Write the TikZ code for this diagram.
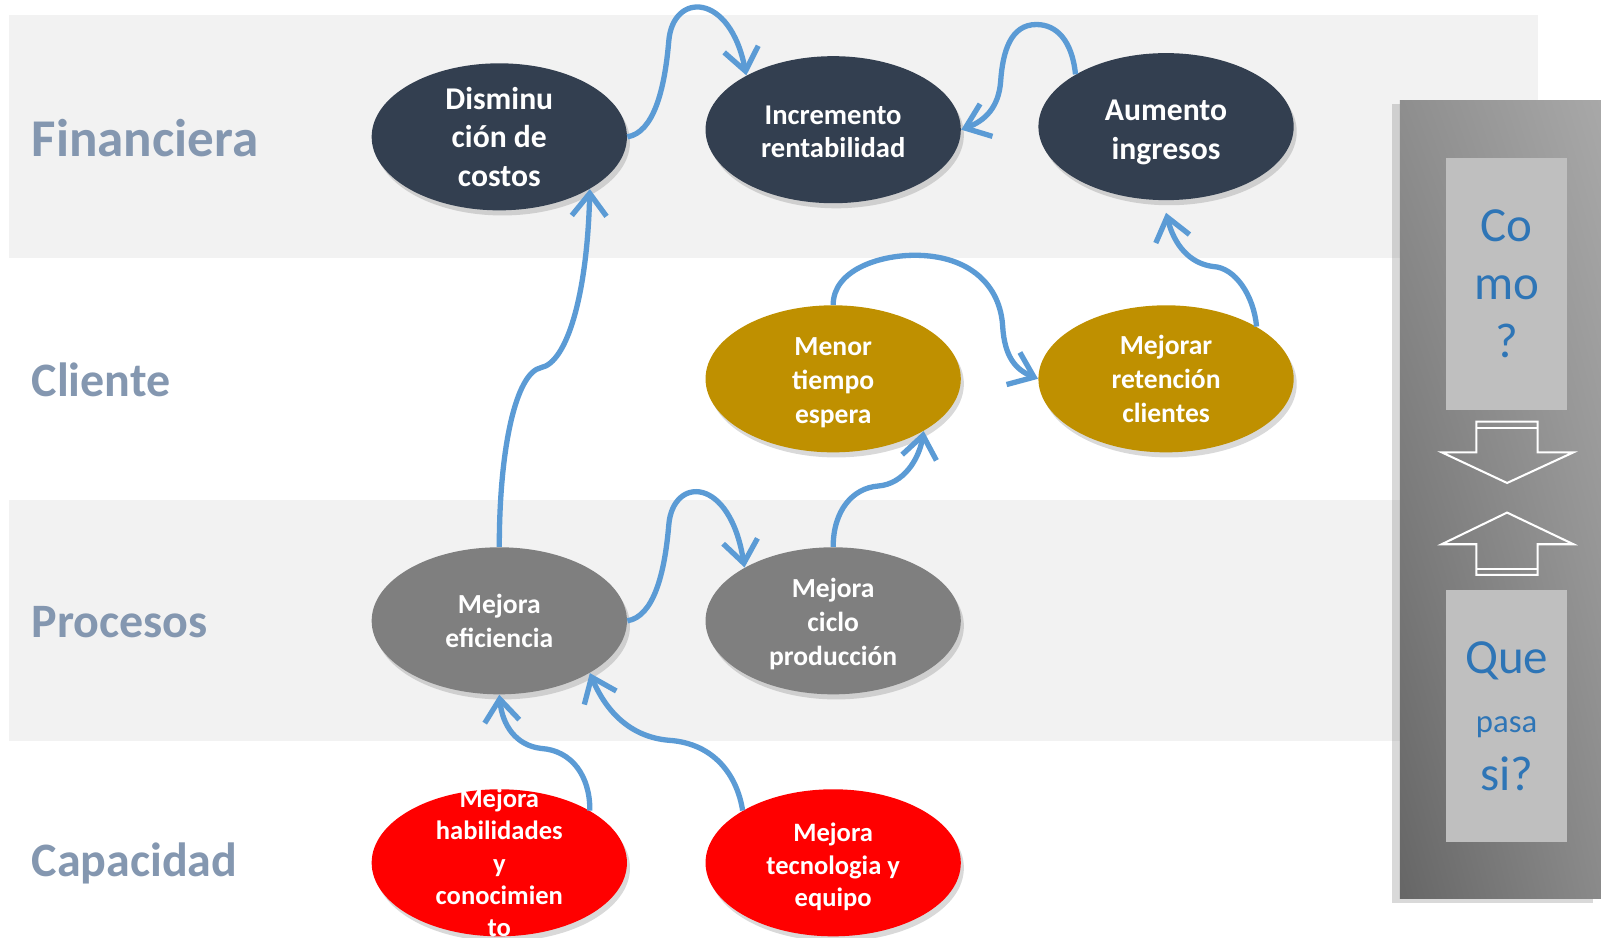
\documentclass[tikz,border=0pt]{standalone}
\usepackage{fontspec}
\setmainfont{Carlito}
\usetikzlibrary{shapes.geometric,shadows,shadings,arrows.meta}

\definecolor{navy}{HTML}{333F50}
\definecolor{gold}{HTML}{BF9000}
\definecolor{procgray}{HTML}{7F7F7F}
\definecolor{capred}{HTML}{FF0000}
\definecolor{linkblue}{HTML}{5B9BD5}
\definecolor{band}{HTML}{F2F2F2}
\definecolor{persp}{HTML}{8497B0}
\definecolor{askblue}{HTML}{2E75B6}
\definecolor{askgray}{HTML}{BFBFBF}
\definecolor{pdark}{HTML}{666666}
\definecolor{pmidA}{HTML}{8E8E8E}
\definecolor{pmidB}{HTML}{8A8A8A}
\definecolor{plight}{HTML}{A8A8A8}

\begin{document}
\begin{tikzpicture}[x=0.5pt,y=-0.5pt,
  goal/.style={ellipse, minimum width=125pt, minimum height=72pt, inner sep=0pt,
    drop shadow={shadow xshift=1.5pt, shadow yshift=-2.5pt, opacity=0.3}},
  goaltext/.style={text=white, align=center, font=\fontsize{13.5}{16.5}\selectfont\bfseries},
  link/.style={draw=linkblue, line width=2.6pt, -{Straight Barb[length=11pt,width=17pt]}},
  perspective/.style={anchor=west, text=persp, font=\fontsize{23.5}{28}\selectfont\bfseries},
  askbox/.style={fill=askgray, minimum width=59.5pt, minimum height=123.5pt, inner sep=0pt,
    text=askblue, align=center}]

\useasboundingbox (0,0) rectangle (1568,918);

% Background bands
\fill[band] (9,15) rectangle (1506,253);
\fill[band] (9,490) rectangle (1506,726);

% Perspective labels
\node[perspective, font=\fontsize{26}{30}\selectfont\bfseries] (fin) at (24,135) {Financiera};
\node[perspective] (cli) at (24,372) {Cliente};
\node[perspective] (pro) at (24,609) {Procesos};
\node[perspective] (cap) at (24,846) {Capacidad};

% Financial goals
\node[goal, fill=navy, label={[goaltext, font=\fontsize{15.5}{19}\selectfont\bfseries]center:{Disminu\\ción de\\costos}}] (dis) at (489,134) {};
\node[goal, fill=navy, label={[goaltext, font=\fontsize{14}{16}\selectfont\bfseries, yshift=-1pt]center:{Incremento\\rentabilidad}}] (inc) at (816,127) {};
\node[goal, fill=navy, label={[goaltext, font=\fontsize{15.5}{19}\selectfont\bfseries, yshift=-3pt]center:{Aumento\\ingresos}}] (aum) at (1142,124) {};

% Customer goals
\node[goal, fill=gold, label={[goaltext, yshift=-2pt]center:{Menor\\tiempo\\espera}}] (men) at (816,371) {};
\node[goal, fill=gold, label={[goaltext]center:{Mejorar\\retención\\clientes}}] (ret) at (1142,371) {};

% Process goals
\node[goal, fill=procgray, label={[goaltext]center:{Mejora\\eficiencia}}] (efi) at (489,608) {};
\node[goal, fill=procgray, label={[goaltext, yshift=-1.5pt]center:{Mejora\\ciclo\\producción}}] (cic) at (816,608) {};

% Capacity goals
\node[goal, fill=capred, label={[goaltext, font=\fontsize{13}{15.75}\selectfont\bfseries]center:{Mejora\\habilidades\\y\\conocimien\\to}}] (hab) at (489,845) {};
\node[goal, fill=capred, label={[goaltext, font=\fontsize{13}{15.75}\selectfont\bfseries, yshift=-2pt]center:{Mejora\\tecnologia y\\equipo}}] (tec) at (816,845) {};

% Cause and effect links
\draw[link] (dis.east) .. controls (640,130) and (651,88) .. (655,40) .. controls (659,-8) and (715,-8) .. (inc.148);
\draw[link] (aum.150) .. controls (1050,40) and (1035,24) .. (1015,24) .. controls (990,24) and (982,50) .. (980,80) .. controls (978,105) and (965,118) .. (inc.east);
\draw[link] (efi.north) .. controls (489,440) and (505,365) .. (530,360) .. controls (555,355) and (575,290) .. (dis.-30);
\draw[link] (men.north) .. controls (816,265) and (860,250) .. (896,250) .. controls (950,250) and (980,280) .. (982,320) .. controls (984,350) and (995,362) .. (ret.west);
\draw[link] (ret.30) .. controls (1228,290) and (1210,262) .. (1188,261) .. controls (1165,258) and (1150,240) .. ([yshift=-6pt]aum.south);
\draw[link] (efi.east) .. controls (640,604) and (651,562) .. (655,514) .. controls (659,466) and (715,466) .. (cic.149);
\draw[link] (cic.north) .. controls (816,500) and (835,478) .. (860,476) .. controls (885,474) and (900,450) .. (men.-30);
\draw[link] (hab.30) .. controls (578,760) and (560,735) .. (530,733) .. controls (505,730) and (492,710) .. (efi.south);
\draw[link] (tec.150) .. controls (722,760) and (700,728) .. (655,725) .. controls (620,722) and (595,700) .. (efi.-30);

% Right panel
\shade[lower left=pdark, upper left=pmidA, lower right=pmidB, upper right=plight,
  drop shadow={shadow xshift=-4pt, shadow yshift=-2pt, opacity=0.3}] (1371,98) rectangle (1568,880);
\node[askbox, font=\fontsize{24}{28.5}\selectfont] (como) at (1475.5,278) {Co\\mo\\?};
\node[askbox, font=\fontsize{24}{28.5}\selectfont] (que) at (1475.5,701.5) {Que\\{\fontsize{16}{26}\selectfont pasa}\\si?};

% Hollow arrows between the boxes
\draw[white, line width=1pt] (1446,413) -- (1506,413) -- (1506,443) -- (1541,443) -- (1476,473) -- (1412,443) -- (1446,443) -- cycle;
\draw[white, line width=1pt] (1446,419) -- (1506,419);
\draw[white, line width=1pt] (1446,563) -- (1506,563) -- (1506,533) -- (1541,533) -- (1476,502) -- (1412,533) -- (1446,533) -- cycle;
\draw[white, line width=1pt] (1446,557) -- (1506,557);

\end{tikzpicture}
\end{document}
